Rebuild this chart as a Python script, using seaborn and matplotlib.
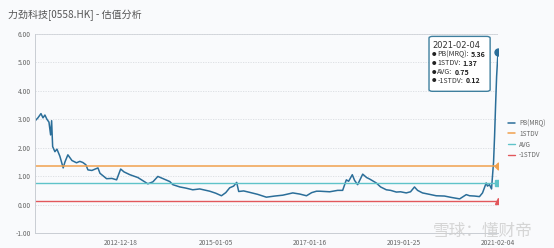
import matplotlib
matplotlib.use("Agg")
import matplotlib.pyplot as plt
from matplotlib.patches import FancyBboxPatch
import seaborn as sns
import pandas as pd

# ---------------- data ----------------
dates = ["2011-02-09", "2011-03-04", "2011-03-28", "2011-04-13", "2011-04-28", "2011-05-14",
         "2011-05-30", "2011-06-12", "2011-06-20", "2011-06-28", "2011-07-16", "2011-08-01",
         "2011-08-24", "2011-09-19", "2011-10-03", "2011-10-26", "2011-11-27", "2012-01-02",
         "2012-01-28", "2012-02-21", "2012-03-16", "2012-04-01", "2012-05-02", "2012-06-19",
         "2012-07-05", "2012-08-26", "2012-10-07", "2012-11-13", "2012-12-15", "2013-01-10",
         "2013-02-26", "2013-04-30", "2013-07-17", "2013-08-26", "2013-10-04", "2013-11-20",
         "2014-01-06", "2014-01-30", "2014-03-26", "2014-05-12", "2014-07-06", "2014-08-30",
         "2014-11-17", "2015-01-03", "2015-02-17", "2015-03-23", "2015-04-23", "2015-05-24",
         "2015-06-17", "2015-07-03", "2015-08-11", "2015-09-27", "2015-11-29", "2016-02-06",
         "2016-04-12", "2016-06-14", "2016-09-01", "2016-10-26", "2016-12-18", "2017-01-28",
         "2017-03-07", "2017-04-02", "2017-06-19", "2017-08-21", "2017-09-29", "2017-10-28",
         "2017-11-15", "2017-12-14", "2018-01-01", "2018-01-25", "2018-03-06", "2018-04-06",
         "2018-04-29", "2018-06-21", "2018-07-25", "2018-09-08", "2018-10-12", "2018-11-26",
         "2018-12-29", "2019-02-12", "2019-03-18", "2019-04-18", "2019-05-12", "2019-06-20",
         "2019-08-14", "2019-10-06", "2019-12-10", "2020-02-04", "2020-04-08", "2020-05-30",
         "2020-06-25", "2020-08-03", "2020-09-11", "2020-10-05", "2020-11-03", "2020-11-13",
         "2020-11-29", "2020-12-15", "2020-12-31", "2021-01-08", "2021-01-16", "2021-01-24",
         "2021-02-04"]
pb_mrq = [2.94, 3.05, 3.20, 3.05, 3.15, 3.00,
          2.90, 2.45, 2.95, 2.04, 1.86, 1.95,
          1.70, 1.29, 1.50, 1.75, 1.55, 1.47,
          1.52, 1.48, 1.40, 1.22, 1.20, 1.29,
          1.10, 0.91, 0.92, 0.87, 1.25, 1.15,
          1.05, 0.95, 0.73, 0.80, 0.99, 0.90,
          0.81, 0.70, 0.62, 0.58, 0.52, 0.55,
          0.47, 0.40, 0.31, 0.42, 0.59, 0.65,
          0.78, 0.46, 0.48, 0.43, 0.36, 0.26,
          0.30, 0.33, 0.41, 0.37, 0.31, 0.42,
          0.47, 0.47, 0.45, 0.50, 0.50, 0.87,
          0.82, 1.05, 0.85, 0.70, 1.07, 0.95,
          0.90, 0.76, 0.62, 0.52, 0.50, 0.44,
          0.45, 0.41, 0.45, 0.62, 0.50, 0.41,
          0.36, 0.31, 0.30, 0.25, 0.20, 0.35,
          0.31, 0.30, 0.28, 0.41, 0.76, 0.65,
          0.70, 0.55, 1.50, 2.40, 3.50, 4.50,
          5.36]
stdv_plus = 1.37
avg = 0.75
stdv_minus = 0.12
series_names = ["PB(MRQ)", "1STDV", "AVG", "-1STDV"]
tick_dates = ["2012-12-18", "2015-01-05", "2017-01-16", "2019-01-25", "2021-02-04"]
y_ticks = [-1, 0, 1, 2, 3, 4, 5, 6]
title = "力劲科技[0558.HK] - 估值分析"
tooltip_date = "2021-02-04"

# ---------------- style ----------------
sns.set_theme(style="white")
plt.rcParams["font.family"] = ["Noto Sans CJK SC", "DejaVu Sans"]

C_PB = "#2b6e99"
C_P = "#f0a14e"
C_AVG = "#5fc3c9"
C_M = "#e2575c"
BG = "#f9fafc"
GRID = "#d9dce1"
TXT = "#666666"

df = pd.DataFrame({"date": pd.to_datetime(dates), "PB(MRQ)": pb_mrq})

fig = plt.figure(figsize=(5.54, 2.48), dpi=100, facecolor=BG)
ax = fig.add_axes([35 / 554, 15 / 248, 463 / 554, 199 / 248])
ax.set_facecolor(BG)

sns.lineplot(data=df, x="date", y="PB(MRQ)", ax=ax, color=C_PB, linewidth=1.1,
             label=series_names[0])
ax.axhline(stdv_plus, color=C_P, linewidth=1.1, label=series_names[1])
ax.axhline(avg, color=C_AVG, linewidth=1.0, label=series_names[2])
ax.axhline(stdv_minus, color=C_M, linewidth=1.0, label=series_names[3])

last = df["date"].iloc[-1]
ax.axvline(last, color="#b8bcc2", linewidth=0.7, linestyle=(0, (2, 1.5)), zorder=1)
ax.plot([last], [df["PB(MRQ)"].iloc[-1]], marker="o", markersize=5, color=C_PB, zorder=5)
ax.plot([last], [stdv_plus], marker="D", markersize=3.5, color=C_P, zorder=5)
ax.plot([last], [avg], marker="s", markersize=5, color=C_AVG, zorder=5)
ax.plot([last], [stdv_minus], marker="^", markersize=4.5, color=C_M, zorder=5)

ax.set_xlim(df["date"].iloc[0], last)
ax.set_ylim(-1, 6)
ax.set_yticks(y_ticks)
ax.set_yticklabels([f"{v:.2f}" for v in y_ticks])
ax.set_xticks(pd.to_datetime(tick_dates))
ax.set_xticklabels(tick_dates)
ax.set_xlabel("")
ax.set_ylabel("")
ax.tick_params(axis="both", labelsize=4.8, colors=TXT, length=0, pad=3)
ax.tick_params(axis="x", length=2, color=GRID, pad=2)
ax.yaxis.grid(True, color=GRID, linestyle=(0, (1.5, 1.5)), linewidth=0.6)
ax.xaxis.grid(False)
for s in ["top", "right"]:
    ax.spines[s].set_visible(False)
for s in ["left", "bottom"]:
    ax.spines[s].set_color("#c9cdd3")
    ax.spines[s].set_linewidth(0.7)
ax.axhline(6, color="#d0d3d8", linewidth=0.7, zorder=0)

leg = ax.legend(loc="center left", bbox_to_anchor=(1.022, 0.472), frameon=False,
                fontsize=4.6, handlelength=1.1, handletextpad=0.6, labelspacing=0.45,
                borderpad=0, borderaxespad=0)
for t in leg.get_texts():
    t.set_color(TXT)

# tooltip
box = FancyBboxPatch((0.851, 0.712), 0.132, 0.276, transform=ax.transAxes,
                     boxstyle="round,pad=0,rounding_size=0.008", facecolor="white",
                     edgecolor="#3f7f9e", linewidth=1.0, zorder=6, clip_on=False)
ax.add_patch(box)
ax.text(0.859, 0.941, tooltip_date, transform=ax.transAxes, fontsize=6.0, color="#333333",
        va="center", ha="left", zorder=7, family="DejaVu Sans")
rows = [("PB(MRQ):", "5.36", 0.898), ("1STDV:", "1.37", 0.853),
        ("AVG:", "0.75", 0.807), ("-1STDV:", "0.12", 0.764)]
for lab, val, yy in rows:
    ax.text(0.862, yy, "●", transform=ax.transAxes, fontsize=3.2, color="#222222",
            va="center", ha="center", zorder=7)
    t = ax.text(0.869, yy, lab, transform=ax.transAxes, fontsize=5.1, color="#333333",
                va="center", ha="left", zorder=7)
    ax.annotate(val, xy=(1, 0.5), xycoords=t, xytext=(1.5, 0), textcoords="offset points",
                fontsize=5.1, color="#222222", fontweight="bold", va="center", ha="left",
                zorder=7)

fig.text(8 / 554, 1 - 15 / 248, title, fontsize=7.2, color="#555555", va="center", ha="left")
fig.text(433 / 554, 1 - 231 / 248, "雪球：懂财帝", fontsize=12, color="#cfcfcf",
         va="center", ha="left", alpha=0.85)

fig.savefig("out.png", dpi=100, facecolor=BG)
